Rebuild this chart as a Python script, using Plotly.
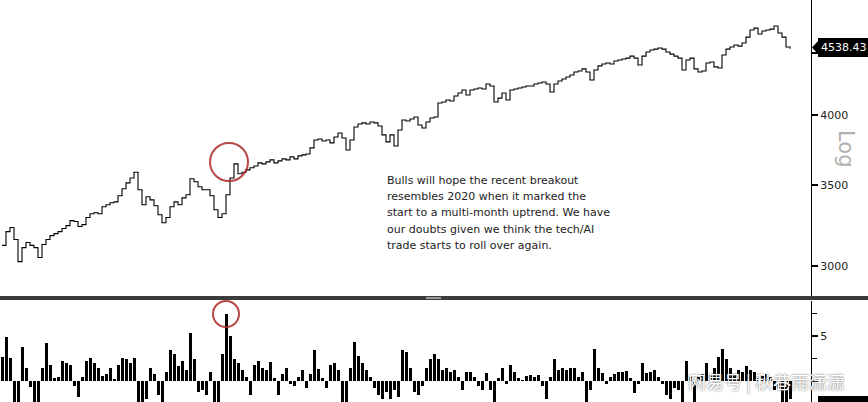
import plotly.graph_objects as go

W, H = 868, 402

# ---- data (S&P 500, ~every 2 trading days, Jun 2020 - Dec 2021) ----
price_close = [
    3120, 3203, 3228, 3155, 3025, 3107, 3137, 3120, 3107, 3049,
    3125, 3155, 3179, 3191, 3203, 3222, 3240, 3271, 3265, 3234,
    3246, 3290, 3314, 3320, 3314, 3358, 3371, 3384, 3390, 3430,
    3476, 3515, 3548, 3587, 3469, 3371, 3423, 3403, 3365, 3308,
    3258, 3290, 3358, 3390, 3371, 3416, 3436, 3542, 3522, 3489,
    3469, 3469, 3430, 3339, 3290, 3314, 3436, 3548, 3644, 3576,
    3587, 3603, 3617, 3630, 3651, 3644, 3658, 3672, 3651, 3665,
    3679, 3672, 3693, 3679, 3700, 3707, 3714, 3757, 3814, 3821,
    3807, 3814, 3793, 3836, 3865, 3829, 3742, 3814, 3910, 3932,
    3940, 3932, 3947, 3940, 3917, 3851, 3800, 3851, 3771, 3887,
    3962, 3955, 3970, 3985, 3925, 3902, 3947, 3977, 3985, 4092,
    4100, 4116, 4108, 4147, 4171, 4195, 4155, 4195, 4203, 4211,
    4203, 4243, 4227, 4100, 4131, 4171, 4116, 4195, 4203, 4211,
    4219, 4227, 4227, 4243, 4251, 4259, 4243, 4179, 4243, 4268,
    4284, 4300, 4317, 4342, 4350, 4367, 4342, 4276, 4358, 4392,
    4408, 4417, 4408, 4433, 4442, 4450, 4458, 4475, 4458, 4400,
    4475, 4510, 4527, 4535, 4544, 4535, 4510, 4492, 4475, 4458,
    4358, 4442, 4458, 4367, 4342, 4350, 4417, 4425, 4384, 4375,
    4484, 4535, 4553, 4570, 4561, 4588, 4640, 4703, 4720, 4667,
    4694, 4703, 4711, 4739, 4676, 4640, 4553, 4538.43,
]

indicator = [
    2.7, 4.9, 2.6, -2.5, -2.5, 3.8, 1.5, -0.7, -2.5, -2.5,
    1.5, 4.2, 1.8, 0.3, 0.5, 2.2, 2.0, 1.8, -0.5, -1.8,
    0.4, 2.2, 2.6, 2.0, 1.5, 0.6, 0.8, 1.4, 0.2, 1.8,
    2.6, 2.4, 2.0, 2.6, -2.5, -2.5, -2.0, 1.5, 0.8, -1.5,
    -2.5, 1.0, 3.5, 3.0, 1.7, 2.2, 1.2, 5.3, 2.5, -1.2,
    -1.0, -1.5, 1.0, -2.5, -2.5, 3.0, 7.5, 5.0, 2.5, 2.0,
    1.2, 0.5, -1.5, 1.8, 2.2, 1.5, 1.2, 2.1, 0.3, -1.5,
    0.8, 1.5, -0.3, -0.6, 0.4, 1.2, -0.8, 0.8, 3.4, 1.3,
    0.3, -0.8, 1.8, 2.0, 1.2, -2.5, -2.5, 1.5, 4.3, 2.8,
    2.0, 1.2, 0.5, -0.8, -1.5, -2.0, -1.2, -2.0, -1.0, -1.8,
    3.5, 3.2, 1.5, -1.2, -1.5, -0.6, 1.5, 2.4, 3.0, 2.5,
    1.2, 1.5, 1.0, 1.2, 0.5, -1.0, 1.0, 1.0, 0.5, -0.5,
    -1.0, 0.9, -1.0, -2.5, 0.3, 1.5, -0.3, 1.8, 1.0, 0.3,
    0.1, 0.6, 0.7, 0.5, 0.7, -0.5, -2.0, 0.5, 2.5, 1.2,
    1.4, 1.2, 1.5, 1.5, 0.5, 1.0, -2.5, -1.0, 3.6, 1.5,
    0.9, -0.3, 0.5, 0.8, 1.0, 1.0, 1.1, 0.3, -1.3, -0.3,
    2.0, 0.9, 1.0, 1.2, 0.4, -0.3, -1.5, -2.0, -0.8, -1.0,
    -2.5, 2.2, 0.5, -2.5, 0.5, 0.8, 2.0, 0.8, 1.5, 2.7,
    3.6, 2.5, 1.5, 0.8, 1.2, 1.0, 1.7, 1.2, 1.0, 0.3,
    0.6, 0.8, 0.5, -1.0, -0.8, -2.5, -2.5, -2.0,
]

price_ticks = [3000, 3500, 4000, 4500]
price_tick_text = ["3000", "3500", "4000", ""]
ind_ticks = [0, 5]
ind_tick_text = ["", "5"]
last_label = "4538.43"

note_lines = [
    "Bulls will hope the recent breakout",
    "resembles 2020 when it marked the",
    "start to a multi-month uptrend. We have",
    "our doubts given we think the tech/AI",
    "trade starts to roll over again.",
]
watermark = "网易号 | 秋巷雨潇潇"

x = list(range(len(price_close)))


def px(xp):
    return xp / W


def py(yp):
    return 1 - yp / H


fig = go.Figure()
fig.add_trace(go.Scatter(
    x=x, y=price_close, mode="lines", line=dict(color="black", width=1.1, shape="hv"),
    xaxis="x", yaxis="y", hoverinfo="skip", showlegend=False,
))
fig.add_trace(go.Bar(
    x=x, y=indicator, marker=dict(color="black", line=dict(width=0)), width=0.75,
    xaxis="x2", yaxis="y2", hoverinfo="skip", showlegend=False,
))

tickfont = dict(family="DejaVu Sans", size=11, color="#222")
xr = [-0.5, 202.25]
fig.update_layout(
    width=W, height=H, margin=dict(l=0, r=0, t=0, b=0),
    paper_bgcolor="white", plot_bgcolor="white",
    xaxis=dict(domain=[0, px(811)], range=xr, visible=False, anchor="y"),
    xaxis2=dict(domain=[0, px(811)], range=xr, visible=False, anchor="y2"),
    yaxis=dict(domain=[py(296), 1], type="log", range=[3.4523, 3.6972], side="right",
               anchor="x", tickvals=price_ticks, ticktext=price_tick_text,
               showgrid=False, zeroline=False, showline=True, linecolor="black",
               linewidth=1, ticks="outside", ticklen=6, tickwidth=2, tickcolor="black",
               tickfont=tickfont),
    yaxis2=dict(domain=[0, py(301)], range=[-2.333, 8.889], side="right", anchor="x2",
                tickvals=ind_ticks, ticktext=ind_tick_text, showgrid=False, zeroline=False,
                showline=True, linecolor="black", linewidth=1, ticks="outside",
                ticklen=6, tickwidth=2, tickcolor="black", tickfont=tickfont,
                minor=dict(tickvals=[2.5, 7.5], ticks="outside", ticklen=5, tickwidth=1,
                           tickcolor="black")),
    bargap=0,
)

shapes = [
    # panel separator
    dict(type="rect", xref="paper", yref="paper", x0=0, x1=1, y0=py(300), y1=py(296),
         fillcolor="#3c3c3c", line=dict(width=0), layer="above"),
    dict(type="rect", xref="paper", yref="paper", x0=px(426), x1=px(441), y0=py(299),
         y1=py(297), fillcolor="#9a9a9a", line=dict(width=0), layer="above"),
    # last price label box
    dict(type="rect", xref="paper", yref="paper", x0=px(818), x1=1, y0=py(57), y1=py(38),
         fillcolor="black", line=dict(width=0), layer="above"),
    dict(type="path", xref="paper", yref="paper",
         path=f"M {px(812)},{py(47.5)} L {px(819)},{py(40)} L {px(819)},{py(55)} Z",
         fillcolor="black", line=dict(width=0), layer="above"),
    # cut-off label at bottom right
    dict(type="rect", xref="paper", yref="paper", x0=px(818), x1=1, y0=0, y1=py(396),
         fillcolor="black", line=dict(width=0), layer="above"),
    # red circles
    dict(type="circle", xref="paper", yref="paper", x0=px(210), x1=px(248), y0=py(181),
         y1=py(143), line=dict(color="rgba(170,40,40,0.85)", width=2), layer="above"),
    dict(type="circle", xref="paper", yref="paper", x0=px(213), x1=px(239), y0=py(327),
         y1=py(301), line=dict(color="rgba(170,40,40,0.85)", width=2), layer="above"),
]
fig.update_layout(shapes=shapes)

ann = [
    dict(xref="paper", yref="paper", x=px(819), y=py(47.5), xanchor="left", yanchor="middle",
         text=last_label, showarrow=False,
         font=dict(family="DejaVu Sans", size=11, color="white")),
    dict(xref="paper", yref="paper", x=px(846), y=py(149), xanchor="center", yanchor="middle",
         text="Log", showarrow=False, textangle=90,
         font=dict(family="DejaVu Sans", size=21, color="#b0b0b0")),
]
for k, line in enumerate(note_lines):
    ann.append(dict(xref="paper", yref="paper", x=px(385), y=py(180.5 + 16.2 * k),
                    xanchor="left", yanchor="middle", text=line, showarrow=False,
                    font=dict(family="DejaVu Sans", size=11, color="#222")))
ann.append(dict(xref="paper", yref="paper", x=px(686), y=py(381), xanchor="left",
                yanchor="middle", text=watermark, showarrow=False,
                font=dict(family="Noto Sans CJK SC", size=18, color="white",
                          shadow="0px 0px 2px #555")))
fig.update_layout(annotations=ann)

fig.write_html(
    "out.html",
    config={"displayModeBar": False},
    post_script="document.body.style.margin='0';document.body.style.overflow='hidden';",
)
